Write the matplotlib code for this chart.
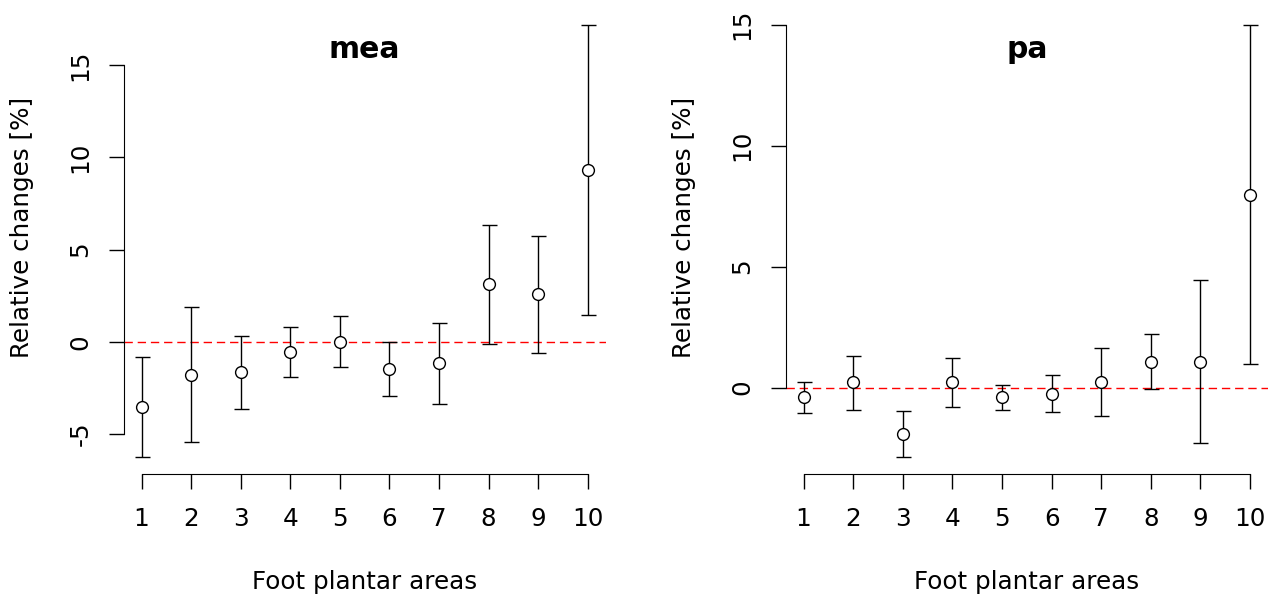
import matplotlib
matplotlib.use("Agg")
import matplotlib.pyplot as plt

plt.rcParams['font.family'] = ['DejaVu Sans']
plt.rcParams['axes.unicode_minus'] = False

areas = [1, 2, 3, 4, 5, 6, 7, 8, 9, 10]

# mea panel (mean, lower and upper bound of the interval)
mea_mean = [-3.52, -1.79, -1.64, -0.56, 0.0, -1.48, -1.17, 3.12, 2.58, 9.32]
mea_low = [-6.23, -5.45, -3.65, -1.93, -1.39, -2.96, -3.36, -0.11, -0.60, 1.45]
mea_high = [-0.83, 1.88, 0.34, 0.81, 1.41, 0.0, 1.01, 6.34, 5.76, 17.19]
mea_yticks = [-5, 0, 5, 10, 15]

# pa panel
pa_mean = [-0.40, 0.21, -1.91, 0.21, -0.40, -0.25, 0.21, 1.06, 1.06, 7.98]
pa_low = [-1.06, -0.91, -2.86, -0.80, -0.94, -1.00, -1.18, -0.08, -2.31, 0.97]
pa_high = [0.25, 1.31, -0.95, 1.21, 0.11, 0.51, 1.63, 2.21, 4.45, 15.0]
pa_yticks = [0, 5, 10, 15]

fig = plt.figure(figsize=(12.69, 5.94), dpi=100)
ax1 = fig.add_axes([0.0975, 0.202, 0.3797, 0.7855])
ax2 = fig.add_axes([0.6192, 0.202, 0.3799, 0.7855])


def panel(ax, title, mean, low, high, yticks):
    lo = min(low)
    hi = max(high)
    pad = (hi - lo) * 0.04
    ax.set_ylim(lo - pad, hi + pad)
    ax.set_xlim(1 - 0.36, 10 + 0.36)

    ax.axhline(0, color='red', lw=1.0, dashes=(6, 3.5), zorder=1)
    yerr = [[m - l for m, l in zip(mean, low)], [h - m for m, h in zip(mean, high)]]
    ax.errorbar(areas, mean, yerr=yerr, fmt='none', ecolor='black',
                elinewidth=1.0, capsize=5.4, capthick=1.0, zorder=2)
    ax.plot(areas, mean, 'o', ms=8.5, mfc='white', mec='black', mew=1.0,
            zorder=3)

    for s in ['top', 'right']:
        ax.spines[s].set_visible(False)
    ax.spines['left'].set_bounds(yticks[0], yticks[-1])
    ax.spines['bottom'].set_bounds(1, 10)
    ax.set_xticks(areas)
    ax.set_yticks(yticks)
    ax.tick_params(length=11, width=1.0, labelsize=17.7)
    ax.tick_params(axis='x', pad=12.5)
    ax.tick_params(axis='y', labelrotation=90, pad=11.5)
    for lab in ax.get_yticklabels():
        lab.set_va('center')

    ax.set_xlabel('Foot plantar areas', fontsize=17.7)
    ax.xaxis.label.set_va('center')
    ax.xaxis.set_label_coords(0.5, -0.2308)
    ax.set_ylabel('Relative changes [%]', fontsize=17.7)
    ax.yaxis.label.set_va('center')
    ax.yaxis.set_label_coords(-0.211, 0.529)

    ax.text(0.5, 0.8925, title, transform=ax.transAxes, ha='center',
            va='baseline', fontsize=21.5, fontweight='bold')


panel(ax1, 'mea', mea_mean, mea_low, mea_high, mea_yticks)
panel(ax2, 'pa', pa_mean, pa_low, pa_high, pa_yticks)

fig.savefig('out.png', dpi=100)
